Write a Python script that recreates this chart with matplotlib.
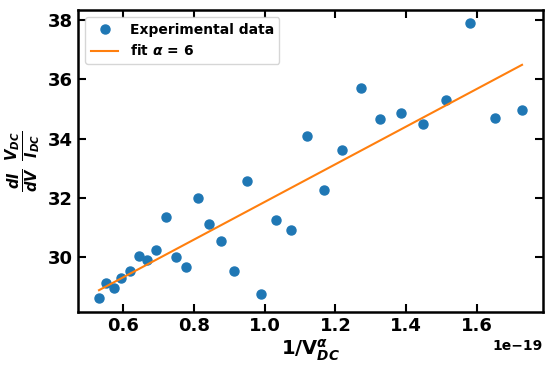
import matplotlib
matplotlib.use("Agg")
import matplotlib.pyplot as plt

plt.rcParams['font.weight'] = 'bold'
plt.rcParams['mathtext.fontset'] = 'custom'
plt.rcParams['mathtext.rm'] = 'DejaVu Sans:bold'
plt.rcParams['mathtext.it'] = 'DejaVu Sans:italic:bold'
plt.rcParams['mathtext.bf'] = 'DejaVu Sans:bold'

x_data = [0.532, 0.552, 0.575, 0.594, 0.620, 0.645, 0.668, 0.693, 0.721, 0.750,
          0.778, 0.812, 0.843, 0.877, 0.914, 0.950, 0.990, 1.032, 1.075, 1.120,
          1.168, 1.219, 1.272, 1.326, 1.385, 1.447, 1.512, 1.580, 1.651, 1.727]
y_data = [28.61, 29.12, 28.95, 29.29, 29.53, 30.03, 29.90, 30.24, 31.35, 30.00,
          29.66, 31.99, 31.11, 30.54, 29.53, 32.57, 28.75, 31.25, 30.91, 34.09,
          32.26, 33.61, 35.71, 34.66, 34.86, 34.49, 35.30, 37.91, 34.70, 34.97]
fit_x = [0.532, 1.727]
fit_y = [28.88, 36.49]
scale = 1e-19

fig = plt.figure(figsize=(5.54, 3.72), dpi=100)
ax = fig.add_axes([0.141, 0.161, 0.839, 0.812])
ax.plot([v * scale for v in x_data], y_data, 'o', color='#1f77b4', markersize=6.5,
        label='Experimental data')
ax.plot([v * scale for v in fit_x], fit_y, '-', color='#ff7f0e', linewidth=1.5,
        label=r'fit $\alpha$ = 6')

ax.set_xlim(0.473e-19, 1.786e-19)
ax.set_ylim(28.14, 38.34)
ax.set_xticks([0.6e-19, 0.8e-19, 1.0e-19, 1.2e-19, 1.4e-19, 1.6e-19])
ax.set_yticks([30, 32, 34, 36, 38])

ax.tick_params(direction='in', top=True, right=True, length=6, width=1.5,
               labelsize=13)
for lab in ax.get_xticklabels() + ax.get_yticklabels():
    lab.set_fontweight('bold')
ax.xaxis.get_offset_text().set_fontsize(10)
ax.xaxis.get_offset_text().set_fontweight('bold')
for s in ax.spines.values():
    s.set_linewidth(1.8)

ax.set_xlabel(r'1/V$_{DC}^{\alpha}$', fontsize=14, fontweight='bold', labelpad=2)
ax.set_ylabel(r'$\frac{dI}{dV}\ \frac{V_{DC}}{I_{DC}}$', fontsize=15, fontweight='bold')

leg = ax.legend(loc='upper left', prop={'weight': 'bold', 'size': 10})

fig.savefig('out.png', dpi=100)
